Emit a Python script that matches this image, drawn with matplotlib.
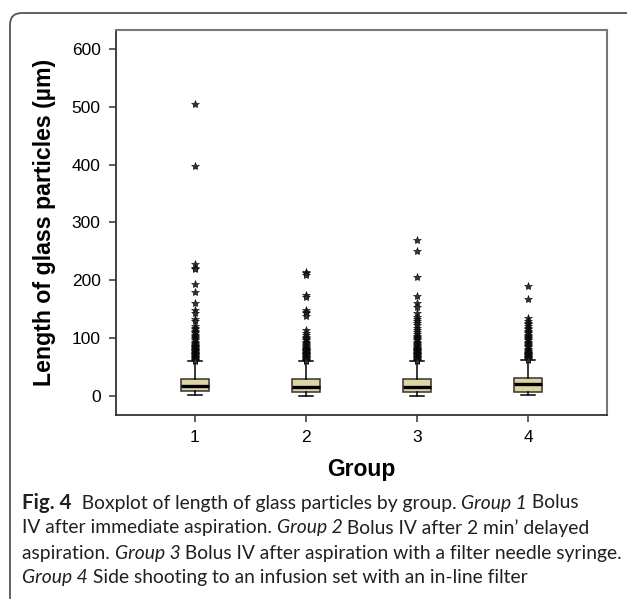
import matplotlib
matplotlib.use("Agg")
import matplotlib.pyplot as plt
from matplotlib.patches import FancyBboxPatch
from matplotlib.transforms import IdentityTransform

# box statistics (length in µm)
groups = ["1", "2", "3", "4"]
q1 = [8.5, 7.5, 7.5, 7.5]
med = [17, 16, 16, 20]
q3 = [29, 29, 29, 30.5]
whis_lo = [1, 0.5, 0.5, 1]
whis_hi = [60, 60, 60, 62]

fliers_1 = [505, 397, 228, 222, 219, 193, 180, 160, 149, 143, 133, 129, 121, 118,
            115, 112, 110, 108, 106, 104, 102, 100, 98, 96, 94, 92, 90, 88, 87, 86,
            85, 84, 83, 82, 81, 80, 79, 78, 77, 76, 75, 74, 73, 72, 71, 70, 69, 68,
            67, 66, 65, 64, 63, 62, 61]
fliers_2 = [214, 212, 210, 175, 171, 149, 146, 143, 139, 114, 108, 105, 102, 100,
            98, 96, 94, 92, 90, 88, 86, 84, 83, 82, 81, 80, 79, 78, 77, 76, 75, 74,
            73, 72, 71, 70, 69, 68, 67, 66, 65, 64, 63, 62, 61]
fliers_3 = [269, 251, 205, 172, 160, 153, 143, 137, 133, 129, 126, 122, 118, 114,
            110, 107, 104, 102, 100, 98, 96, 94, 92, 90, 88, 86, 84, 83, 82, 81, 80,
            79, 78, 77, 76, 75, 74, 73, 72, 71, 70, 69, 68, 67, 66, 65, 64, 63, 62, 61]
fliers_4 = [190, 168, 134, 130, 127, 124, 121, 118, 115, 113, 110, 108, 106, 104,
            102, 100, 98, 96, 94, 92, 90, 88, 86, 84, 82, 80, 78, 76, 75, 74, 73, 72,
            71, 70, 69, 68, 67, 66, 65, 64, 63]
fliers = [fliers_1, fliers_2, fliers_3, fliers_4]

yticks = [0, 100, 200, 300, 400, 500, 600]

caption_lines = [
    [("Fig. 4", "bold", "normal"), ("  Boxplot of length of glass particles by group. ", "normal", "normal"),
     ("Group 1", "normal", "italic"), (" Bolus", "normal", "normal")],
    [("IV after immediate aspiration. ", "normal", "normal"), ("Group 2", "normal", "italic"),
     (" Bolus IV after 2 min\u2019 delayed", "normal", "normal")],
    [("aspiration. ", "normal", "normal"), ("Group 3", "normal", "italic"),
     (" Bolus IV after aspiration with a filter needle syringe.", "normal", "normal")],
    [("Group 4", "normal", "italic"), (" Side shooting to an infusion set with an in-line filter", "normal", "normal")],
]

W, H = 627, 599
fig = plt.figure(figsize=(W / 100, H / 100), dpi=100)
fig.patch.set_facecolor("white")

ax = fig.add_axes([116 / W, 1 - 415 / H, (607 - 116) / W, (415 - 30) / H])

stats = []
for i in range(len(groups)):
    stats.append({"med": med[i], "q1": q1[i], "q3": q3[i],
                  "whislo": whis_lo[i], "whishi": whis_hi[i],
                  "fliers": fliers[i], "label": groups[i]})

ax.bxp(stats, positions=[1, 2, 3, 4], widths=0.25, capwidths=0.125,
       patch_artist=True,
       boxprops=dict(facecolor="#dbd6a2", edgecolor="#333333", linewidth=1.1),
       medianprops=dict(color="black", linewidth=2.4),
       whiskerprops=dict(color="black", linewidth=1.1),
       capprops=dict(color="black", linewidth=1.1),
       flierprops=dict(marker="*", markersize=6, markerfacecolor="#333333",
                       markeredgecolor="black", markeredgewidth=0.4, linestyle="none"))

ax.set_xlim(0.29, 4.71)
ax.set_ylim(-33, 633)
ax.set_yticks(yticks)
ax.set_xticks([1, 2, 3, 4])
ax.set_xticklabels(groups)
ax.tick_params(axis="both", direction="out", length=5, width=1.1, color="#333333",
               labelsize=12.5, pad=6)
for lab in ax.get_xticklabels() + ax.get_yticklabels():
    lab.set_family("Liberation Sans")
for side in ["left", "bottom"]:
    ax.spines[side].set_color("#333333")
    ax.spines[side].set_linewidth(1.3)
for side in ["top", "right"]:
    ax.spines[side].set_color("#777777")
    ax.spines[side].set_linewidth(1.5)

ax.set_xlabel("Group", family="Liberation Sans", fontweight="bold", fontsize=16.5, labelpad=9)
ax.set_ylabel("Length of glass particles (\u00b5m)", family="Liberation Sans",
              fontweight="bold", fontsize=16.7, labelpad=11)

# rounded frame around the figure panel
frame = FancyBboxPatch((10, -60), 700, H - 13 + 60,
                       boxstyle="round,pad=0,rounding_size=12",
                       transform=IdentityTransform(), facecolor="none",
                       edgecolor="#555555", linewidth=1.3)
fig.add_artist(frame)

# caption with mixed bold / italic pieces
fig.canvas.draw()
renderer = fig.canvas.get_renderer()
line_y = [503, 528, 553, 578]
for line, y in zip(caption_lines, line_y):
    x = 22
    for txt, weight, style in line:
        size = 14.8 if weight == "bold" else 13.9
        t = fig.text(x / W, 1 - y / H, txt, family="Lato", fontsize=size,
                     fontweight=weight, fontstyle=style, va="center", ha="left",
                     color="#231f20")
        bb = t.get_window_extent(renderer)
        x = bb.x1

fig.savefig("out.png", dpi=100)
